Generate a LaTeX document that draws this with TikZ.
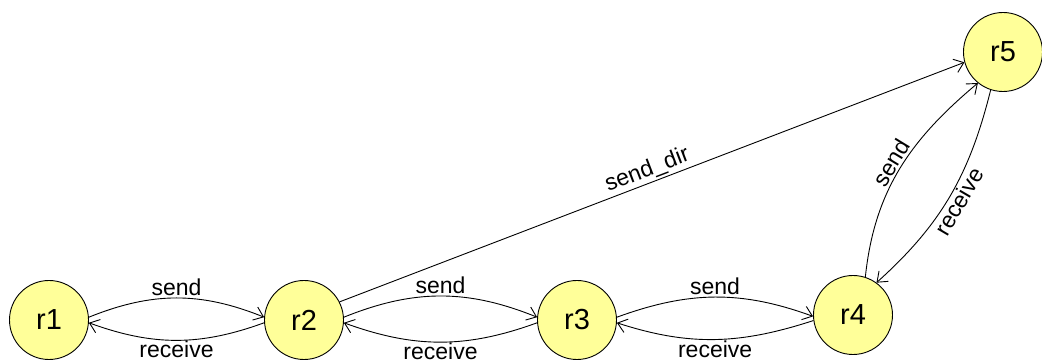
\documentclass[tikz,border=0pt]{standalone}
\usepackage{fontspec}
\setmainfont{Liberation Sans}
\usetikzlibrary{arrows.meta}
\definecolor{statefill}{RGB}{255,255,153}
\begin{document}
\begin{tikzpicture}[x=1pt,y=1pt,
  state/.style={circle,draw=black,line width=0.9pt,fill=statefill,
    minimum size=79pt,inner sep=0pt,font=\fontsize{29}{29}\selectfont},
  link/.style={draw=black,line width=0.9pt,
    -{Straight Barb[length=9pt,width=14pt,line width=0.9pt]}},
  lbl/.style={font=\fontsize{23}{23}\selectfont,inner sep=1.5pt}]
\useasboundingbox (0,0) rectangle (1042,363);
\node[state] (r1) at (49,43) {r1};
\node[state] (r2) at (304,43) {r2};
\node[state] (r3) at (577,43) {r3};
\node[state] (r4) at (853,48) {r4};
\node[state] (r5) at (1003,311) {r5};
% horizontal send / receive pairs
\draw[link] (r1.4) to[out=22,in=158] node[lbl,above]{send} (r2.176);
\draw[link] (r2.184) to[out=200,in=-20] node[lbl,below,inner sep=0.5pt]{receive} (r1.356);
\draw[link] (r2.4) to[out=22,in=158] node[lbl,above]{send} (r3.176);
\draw[link] (r3.184) to[out=200,in=-20] node[lbl,below,inner sep=0.5pt]{receive} (r2.356);
\draw[link] (r3.4) to[out=20,in=160] node[lbl,above]{send} (r4.182);
\draw[link] (r4.188) to[out=198,in=-18] node[lbl,below,inner sep=0.5pt]{receive} (r3.356);
% direct link
\draw[link] (r2.27) -- node[lbl,above,sloped,pos=0.5]{send\_dir} (r5.195);
% vertical pair
\draw[link] (r4.72) to[out=84,in=220] node[lbl,above,sloped]{send} (r5.231);
\draw[link] (r5.252) to[out=256,in=42] node[lbl,below,sloped]{receive} (r4.54);
\end{tikzpicture}
\end{document}
